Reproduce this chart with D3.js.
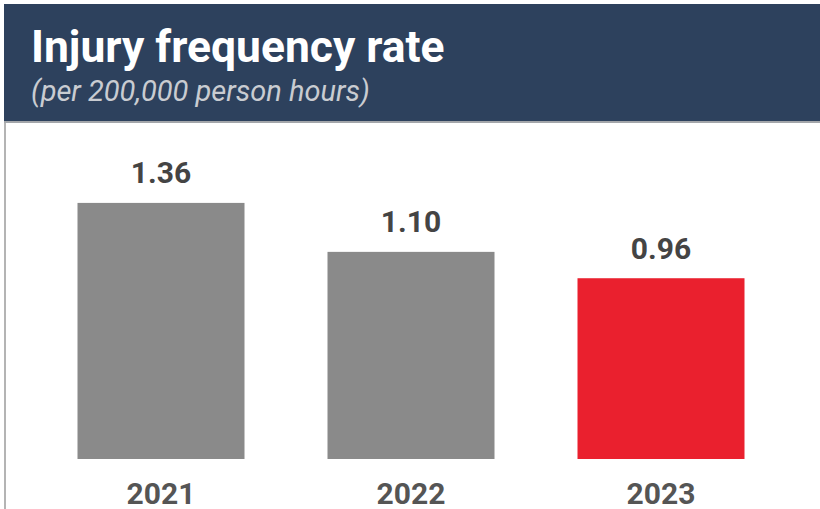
<!DOCTYPE html>
<html>
<head>
<meta charset="utf-8">
<script src="https://cdn.jsdelivr.net/npm/d3@7"></script>
<style>
 body { margin: 0; background: #fff; }
 svg { display: block; font-family: Roboto, sans-serif; }
</style>
</head>
<body>
<svg width="820" height="509"></svg>
<script>
const years = ["2021", "2022", "2023"];
const rates = [1.36, 1.10, 0.96];
const barColors = ["#8a8a8a", "#8a8a8a", "#ea202e"];
const title = "Injury frequency rate";
const subtitle = "(per 200,000 person hours)";

const svg = d3.select("svg");

// header band
svg.append("rect")
 .attr("x", 4).attr("y", 4)
 .attr("width", 816).attr("height", 117)
 .attr("fill", "#2d415d");

svg.append("rect")
 .attr("x", 4).attr("y", 121)
 .attr("width", 816).attr("height", 2)
 .attr("fill", "#a3a6aa");

// left frame line
svg.append("rect")
 .attr("x", 4).attr("y", 123)
 .attr("width", 2).attr("height", 386)
 .attr("fill", "#b4b4b4");

svg.append("text")
 .attr("x", 31).attr("y", 62)
 .attr("fill", "#fff")
 .attr("font-size", 44.4)
 .attr("font-weight", "bold")
 .text(title);

svg.append("text")
 .attr("x", 31).attr("y", 101)
 .attr("fill", "#c9ccd1")
 .attr("font-size", 29)
 .attr("font-style", "italic")
 .text(subtitle);

const data = years.map((y, i) => ({ year: y, value: rates[i], color: barColors[i] }));

const x = d3.scaleBand()
 .domain(years)
 .range([36, 786])
 .paddingInner(0.332)
 .paddingOuter(0.166);

const y = d3.scaleLinear()
 .domain([0, 1])
 .range([459, 459 - 188.3]);

const chart = svg.append("g");

chart.selectAll(".bar")
 .data(data)
 .enter()
 .append("rect")
 .attr("class", "bar")
 .attr("x", d => x(d.year))
 .attr("y", d => y(d.value))
 .attr("width", x.bandwidth())
 .attr("height", d => y(0) - y(d.value))
 .attr("fill", d => d.color);

chart.selectAll(".val")
 .data(data)
 .enter()
 .append("text")
 .attr("class", "val")
 .attr("x", d => x(d.year) + x.bandwidth() / 2)
 .attr("y", d => y(d.value) - 19.5)
 .attr("text-anchor", "middle")
 .attr("fill", "#444")
 .attr("font-size", 30)
 .attr("font-weight", "bold")
 .text(d => d.value.toFixed(2));

const xAxis = chart.append("g")
 .attr("transform", `translate(0,${y(0)})`)
 .call(d3.axisBottom(x).tickSize(0).tickPadding(0));

xAxis.select(".domain").remove();
xAxis.selectAll("text")
 .attr("dy", null)
 .attr("y", 45)
 .attr("fill", "#555")
 .attr("font-family", "Roboto, sans-serif")
 .attr("font-size", 30)
 .attr("font-weight", "bold");
</script>
</body>
</html>
